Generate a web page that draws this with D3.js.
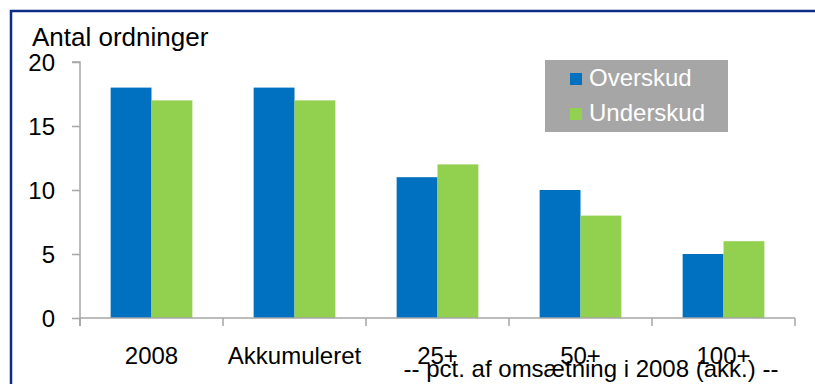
<!DOCTYPE html>
<html>
<head>
<meta charset="utf-8">
<script src="https://cdn.jsdelivr.net/npm/d3@7"></script>
<style>
  html, body { margin: 0; padding: 0; background: #fff; }
  svg { display: block; font-family: "Liberation Sans", Arial, sans-serif; }
</style>
</head>
<body>
<svg id="chart" width="815" height="384"></svg>
<script>
// Categories and series values (antal ordninger)
const categories = ["2008", "Akkumuleret", "25+", "50+", "100+"];
const seriesNames = ["Overskud", "Underskud"];
const overskud = [18, 18, 11, 10, 5];
const underskud = [17, 17, 12, 8, 6];
const yTicks = [0, 5, 10, 15, 20];
const yLabel = "Antal ordninger";
const xSubLabel = "-- pct. af omsætning i 2008 (akk.) --";

const colors = { Overskud: "#0070c0", Underskud: "#92d050" };
const axisColor = "#a6a6a6";

const svg = d3.select("#chart");

// Frame around the figure
svg.append("path")
  .attr("d", "M11,384 V11 H815")
  .attr("fill", "none")
  .attr("stroke", "#0d2c86")
  .attr("stroke-width", 2.5);

const plot = { left: 80, right: 795, top: 62, bottom: 318 };

const x0 = d3.scaleBand().domain(categories).range([plot.left, plot.right]).padding(0);
const x1 = d3.scaleBand().domain(seriesNames).range([0, x0.bandwidth()]).paddingInner(0).paddingOuter(0.75);
const y = d3.scaleLinear().domain([0, 20]).range([plot.bottom, plot.top]);

// Bars
const rows = categories.map((c, i) => ({ cat: c, values: [
  { key: "Overskud", value: overskud[i] },
  { key: "Underskud", value: underskud[i] }
]}));

const groups = svg.append("g").selectAll("g").data(rows).join("g")
  .attr("transform", d => `translate(${x0(d.cat)},0)`);
groups.selectAll("rect").data(d => d.values).join("rect")
  .attr("x", d => x1(d.key))
  .attr("y", d => y(d.value))
  .attr("width", x1.bandwidth())
  .attr("height", d => y(0) - y(d.value))
  .attr("fill", d => colors[d.key]);

// Y axis
const yAxis = d3.axisLeft(y).tickValues(yTicks).tickSize(8).tickPadding(17);
const gy = svg.append("g").attr("transform", `translate(${plot.left},0)`).call(yAxis);
gy.select(".domain").attr("stroke", axisColor).attr("stroke-width", 1.5)
  .attr("d", `M-8,${plot.top}H0V${plot.bottom + 8}`);
gy.selectAll(".tick line").attr("stroke", axisColor).attr("stroke-width", 1.5);
gy.selectAll(".tick text").attr("font-size", 24).attr("fill", "#000")
  .attr("font-family", "Liberation Sans, Arial, sans-serif").attr("dy", "0.36em");

// X axis: ticks sit on category boundaries
const boundaries = categories.map(c => x0(c)).concat([plot.right]);
const gx = svg.append("g");
gx.append("line")
  .attr("x1", plot.left).attr("x2", plot.right)
  .attr("y1", plot.bottom).attr("y2", plot.bottom)
  .attr("stroke", axisColor).attr("stroke-width", 1.5);
gx.selectAll("line.tk").data(boundaries).join("line").attr("class", "tk")
  .attr("x1", d => d).attr("x2", d => d)
  .attr("y1", plot.bottom).attr("y2", plot.bottom + 8)
  .attr("stroke", axisColor).attr("stroke-width", 1.5);
gx.selectAll("text").data(categories).join("text")
  .attr("x", d => x0(d) + x0.bandwidth() / 2)
  .attr("y", 364)
  .attr("text-anchor", "middle")
  .attr("font-size", 24)
  .text(d => d);

svg.append("text")
  .attr("x", 591).attr("y", 377)
  .attr("text-anchor", "middle")
  .attr("font-size", 24)
  .text(xSubLabel);

// Y axis title
svg.append("text")
  .attr("x", 32).attr("y", 46)
  .attr("font-size", 26)
  .text(yLabel);

// Legend
const legend = svg.append("g").attr("transform", "translate(545,60)");
legend.append("rect").attr("width", 183).attr("height", 72).attr("fill", "#a6a6a6");
const items = legend.selectAll("g").data(seriesNames).join("g")
  .attr("transform", (d, i) => `translate(25,${13 + i * 35})`);
items.append("rect").attr("width", 12).attr("height", 12).attr("fill", d => colors[d]);
items.append("text").attr("x", 19).attr("y", 13)
  .attr("font-size", 24).attr("fill", "#fff").text(d => d);
</script>
</body>
</html>
